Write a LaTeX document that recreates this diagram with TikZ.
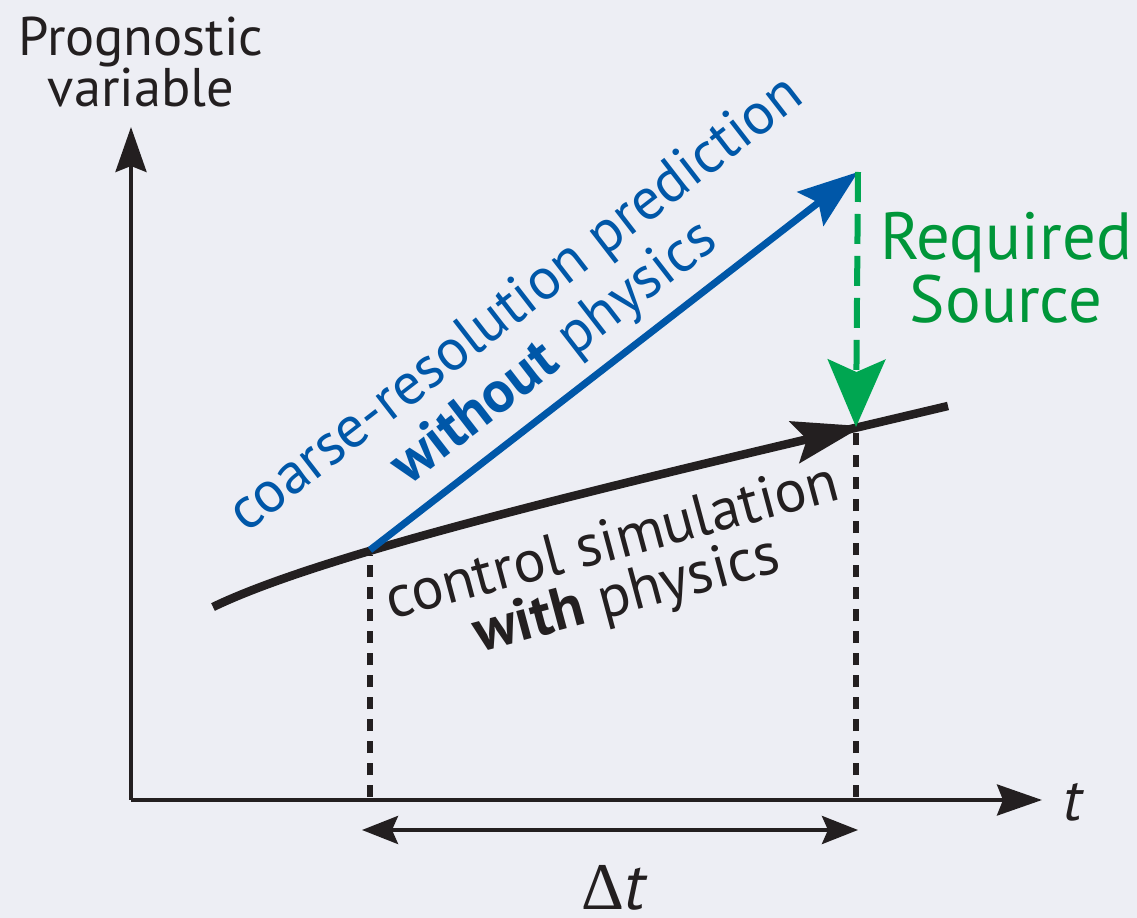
\documentclass[tikz,border=0pt]{standalone}
\usepackage{fontspec}
\setmainfont{PT Sans}
\newfontfamily\gkfont{Liberation Serif}
\usetikzlibrary{arrows.meta,decorations.markings}
\definecolor{bg}{RGB}{237,238,244}
\definecolor{ink}{RGB}{35,31,32}
\definecolor{pblue}{RGB}{0,87,168}
\definecolor{pgreen}{RGB}{0,166,81}
\definecolor{tgreen}{RGB}{0,150,57}
\tikzset{
  axisline/.style={ink, line width=0.08cm, -{Stealth[length=0.9cm,width=0.62cm,inset=0.12cm]}},
  spanline/.style={ink, line width=0.08cm, {Stealth[length=0.72cm,width=0.56cm,inset=0.12cm]}-{Stealth[length=0.72cm,width=0.56cm,inset=0.12cm]}},
  dropline/.style={ink, line width=0.12cm, dash pattern=on 0.24cm off 0.2cm},
  bluearrow/.style={pblue, line width=0.14cm, -{Stealth[length=1.2cm,width=0.85cm,inset=0.2cm]}},
  greenarrow/.style={pgreen, line width=0.12cm, dash pattern=on 0.6cm off 0.24cm, -{Stealth[length=1.35cm,width=1.15cm,inset=0.25cm]}},
  ctrlcurve/.style={ink, line width=0.17cm,
    postaction={decorate, decoration={markings, mark=at position -1.75cm with {\arrow{Stealth[length=1.4cm,width=0.85cm,inset=0.25cm]}}}}},
  lbl/.style={inner sep=0pt, align=center},
}
\begin{document}
\begin{tikzpicture}[x=0.02cm,y=-0.02cm]
\fill[bg] (0,0) rectangle (1137,918);
\useasboundingbox (0,0) rectangle (1137,918);
% points
\coordinate (O) at (131,800);
\coordinate (ytop) at (131,127);
\coordinate (xend) at (1042,800);
\coordinate (c0) at (213,607);
\coordinate (c1) at (948,406);
\coordinate (A) at (370,550);
\coordinate (B) at (856,427);
\coordinate (P) at (858,172);
\coordinate (Ab) at (370,797);
\coordinate (Bb) at (856,797);
\coordinate (dl) at (362,830);
\coordinate (dr) at (858,830);
% axes
\draw[axisline] (O) -- (ytop);
\draw[axisline] (O) -- (xend);
% drop lines
\draw[dropline] (Ab) -- ([yshift=-0.1cm]A);
\draw[dropline] (Bb) -- (B);
% control curve
\draw[ctrlcurve] (c0) .. controls (333,549) and (648,477) .. (c1);
% blue arrow
\draw[bluearrow, line cap=butt] (A) -- (P);
% green arrow
\draw[greenarrow] (P) -- (B);
% delta t span
\draw[spanline] (dl) -- (dr);
% labels
\node[lbl, font=\fontsize{31}{28.5}\selectfont, ink] (ylab) at (141,62) {Prognostic\\variable};
\node[lbl, font=\fontsize{38}{31}\selectfont, tgreen] (src) at (1006,268) {Required\\Source};
\node[lbl, font=\fontsize{33.5}{35}\selectfont, pblue, rotate=37.7] (blab) at (536,330) {coarse-resolution prediction\\\textbf{without} physics};
\node[lbl, font=\fontsize{34}{31}\selectfont, ink, rotate=15] (klab) at (620,571) {control simulation\\\textbf{with} physics};
\node[lbl, font=\fontsize{34}{34}\selectfont\itshape, ink] (tlab) at (1073,802) {t};
\node[lbl, font=\fontsize{38}{38}\selectfont, ink] (dtlab) at (615,888) {{\gkfont Δ}\textit{t}};
\end{tikzpicture}
\end{document}
